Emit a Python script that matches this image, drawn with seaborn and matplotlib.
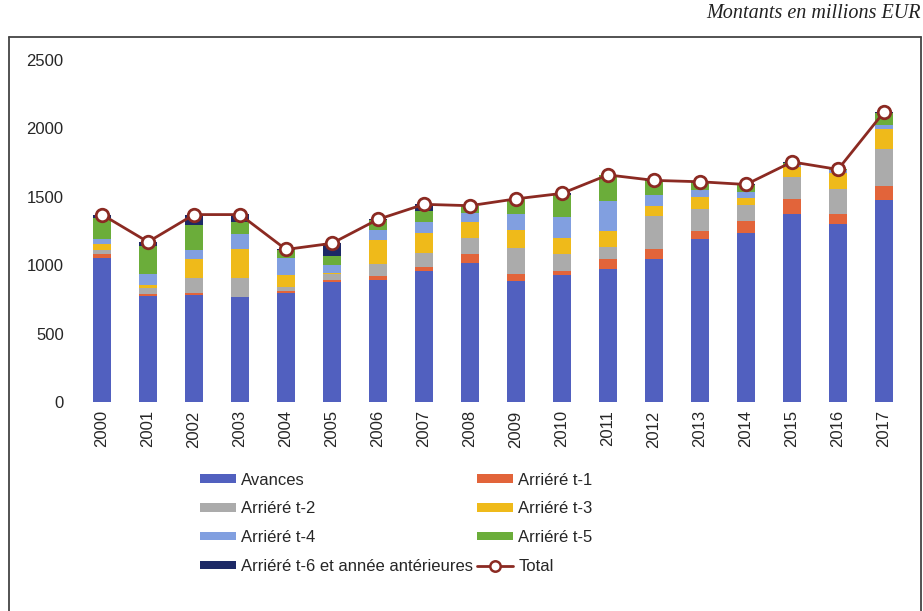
import numpy as np
import seaborn as sns
import matplotlib.pyplot as plt
from matplotlib.patches import Patch
from matplotlib.lines import Line2D

# Données (millions EUR)
years = [str(y) for y in range(2000, 2018)]
avances = [1050, 775, 782, 765, 795, 880, 895, 958, 1019, 887, 928, 972, 1043, 1189, 1238, 1372, 1299, 1477]
arr_t1 = [30, 14, 17, 5, 19, 12, 29, 27, 63, 49, 30, 71, 73, 61, 85, 112, 73, 102]
arr_t2 = [30, 42, 105, 134, 24, 44, 85, 107, 119, 187, 124, 88, 244, 159, 115, 163, 185, 268]
arr_t3 = [45, 24, 139, 212, 90, 5, 175, 146, 117, 134, 114, 119, 73, 87, 51, 69, 115, 146]
arr_t4 = [35, 80, 68, 112, 122, 60, 73, 80, 66, 117, 154, 222, 80, 54, 48, 17, 24, 32]
arr_t5 = [155, 205, 183, 90, 61, 66, 73, 81, 46, 108, 163, 188, 105, 53, 49, 17, 4, 90]
arr_t6 = [25, 30, 76, 54, 5, 93, 5, 46, 5, 3, 12, 0, 2, 7, 5, 5, 0, 5]
total = [1370, 1170, 1370, 1370, 1115, 1160, 1335, 1445, 1435, 1485, 1525, 1660, 1620, 1610, 1590, 1755, 1700, 2120]

series_names = ['Avances', 'Arriéré t-1', 'Arriéré t-2', 'Arriéré t-3',
                'Arriéré t-4', 'Arriéré t-5', 'Arriéré t-6 et année antérieures']
series = [avances, arr_t1, arr_t2, arr_t3, arr_t4, arr_t5, arr_t6]
colors = ['#5160BF', '#E2643A', '#ABABAB', '#EFBA1A', '#819FE0', '#6BAD3A', '#1C2966']
line_color = '#8B2A22'

sns.set_theme(style="white")
plt.rcParams['font.family'] = ['Liberation Sans', 'DejaVu Sans']

fig = plt.figure(figsize=(9.23, 6.11), dpi=100)
ax = fig.add_axes([79 / 923, 1 - 402 / 611, 828 / 923, 342 / 611])

# stacked bars: draw cumulative sums from the top layer down
cum = np.cumsum(np.array(series), axis=0)
for i in range(len(series) - 1, -1, -1):
    sns.barplot(x=years, y=cum[i], color=colors[i], width=0.41,
                saturation=1, ax=ax, linewidth=0)

sns.pointplot(x=years, y=total, color=line_color, markers='o', ax=ax,
              markersize=9, markerfacecolor='white', markeredgecolor=line_color,
              markeredgewidth=2, linewidth=2)

ax.set_ylim(0, 2500)
ax.set_yticks(range(0, 2501, 500))
ax.set_xlim(-0.5, len(years) - 0.5)
ax.set_xlabel('')
ax.set_ylabel('')
ax.tick_params(axis='y', length=0, pad=11, labelsize=12, labelcolor='#262626')
ax.tick_params(axis='x', length=0, pad=6, labelsize=12, labelcolor='#262626', rotation=90)
sns.despine(ax=ax, left=True, bottom=True)
ax.grid(False)

# legend (row order as in the original, column-major for matplotlib)
patches = [Patch(facecolor=c, edgecolor='none', label=n) for c, n in zip(colors, series_names)]
total_handle = Line2D([], [], color=line_color, lw=2, marker='o', markersize=7.5,
                      markerfacecolor='white', markeredgecolor=line_color,
                      markeredgewidth=1.8, label='Total')
handles = [patches[0], patches[2], patches[4], patches[6],
           patches[1], patches[3], patches[5], total_handle]
fig.legend(handles=handles, ncol=2, loc='upper left',
           bbox_to_anchor=(193 / 923, 1 - 466 / 611), frameon=False,
           fontsize=12, handlelength=2.2, handleheight=0.4, handletextpad=0.3,
           columnspacing=0.2, labelspacing=0.82, borderaxespad=0)

fig.text(921 / 923, 1 - 13 / 611, 'Montants en millions EUR', ha='right', va='center',
         fontsize=14.5, style='italic', family=['Liberation Serif', 'DejaVu Serif'], color='#222222')

# outer frame (left, top, right)
fc = '#444444'
fig.add_artist(Line2D([9 / 923, 9 / 923], [0, 1 - 37 / 611], color=fc, lw=1.3))
fig.add_artist(Line2D([9 / 923, 921 / 923], [1 - 37 / 611, 1 - 37 / 611], color=fc, lw=1.3))
fig.add_artist(Line2D([921 / 923, 921 / 923], [0, 1 - 37 / 611], color=fc, lw=1.3))

fig.savefig('out.png', dpi=100)
